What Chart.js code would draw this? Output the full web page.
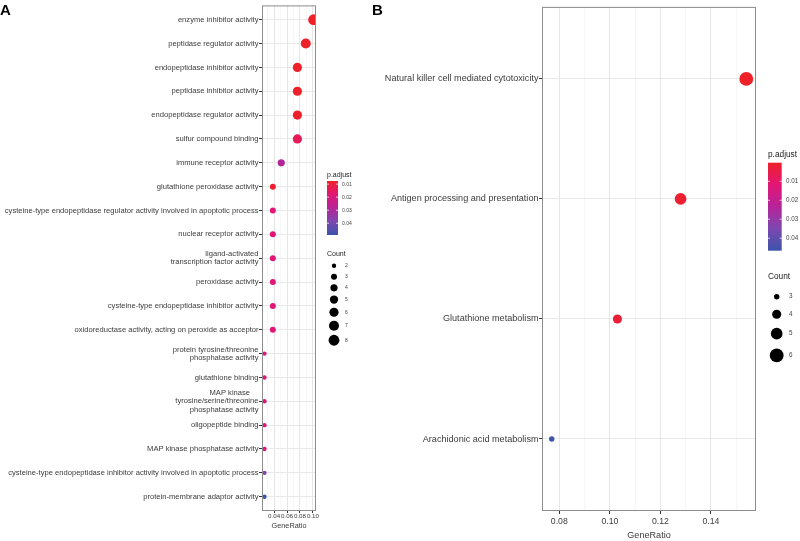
<!DOCTYPE html>
<html>
<head>
<meta charset="utf-8">
<script src="https://cdn.jsdelivr.net/npm/chart.js@4.4.0/dist/chart.umd.min.js"></script>
<style>
html, body { margin: 0; padding: 0; background: #fff; }
#wrap { position: relative; width: 800px; height: 541px; overflow: hidden; }
#chartA { position: absolute; left: 0; top: 0; }
#chartB { position: absolute; left: 365px; top: 0; }
</style>
</head>
<body>
<div id="wrap">
  <canvas id="chartA" width="365" height="541"></canvas>
  <canvas id="chartB" width="435" height="541"></canvas>
</div>
<script>
// ---- panel A data (GO terms) ----
const termsA = [
  "enzyme inhibitor activity",
  "peptidase regulator activity",
  "endopeptidase inhibitor activity",
  "peptidase inhibitor activity",
  "endopeptidase regulator activity",
  "sulfur compound binding",
  "immune receptor activity",
  "glutathione peroxidase activity",
  "cysteine-type endopeptidase regulator activity involved in apoptotic process",
  "nuclear receptor activity",
  "ligand-activated\ntranscription factor activity",
  "peroxidase activity",
  "cysteine-type endopeptidase inhibitor activity",
  "oxidoreductase activity, acting on peroxide as acceptor",
  "protein tyrosine/threonine\nphosphatase activity",
  "glutathione binding",
  "MAP kinase    \ntyrosine/serine/threonine\nphosphatase activity",
  "oligopeptide binding",
  "MAP kinase phosphatase activity",
  "cysteine-type endopeptidase inhibitor activity involved in apoptotic process",
  "protein-membrane adaptor activity"
];
const ratioA = [0.101, 0.089, 0.076, 0.076, 0.076, 0.076, 0.051, 0.038, 0.038, 0.038, 0.038,
                0.038, 0.038, 0.038, 0.025, 0.025, 0.025, 0.025, 0.025, 0.025, 0.025];
const countA = [8, 7, 6, 6, 6, 6, 4, 3, 3, 3, 3, 3, 3, 3, 2, 2, 2, 2, 2, 2, 2];
const padjA = [0.0076, 0.0077, 0.0078, 0.0078, 0.0078, 0.014, 0.029, 0.0085, 0.018, 0.018, 0.018,
               0.018, 0.018, 0.018, 0.019, 0.019, 0.019, 0.019, 0.019, 0.038, 0.049];
const majorTicksA = [0.04, 0.06, 0.08, 0.10];
const minorTicksA = [0.03, 0.05, 0.07, 0.09];
const colorTicksA = [0.01, 0.02, 0.03, 0.04];
const countBreaksA = [2, 3, 4, 5, 6, 7, 8];

// ---- panel B data (KEGG pathways) ----
const termsB = [
  "Natural killer cell mediated cytotoxicity",
  "Antigen processing and presentation",
  "Glutathione metabolism",
  "Arachidonic acid metabolism"
];
const ratioB = [0.154, 0.128, 0.103, 0.077];
const countB = [6, 5, 4, 3];
const padjB = [0.0002, 0.0015, 0.0025, 0.0466];
const majorTicksB = [0.08, 0.10, 0.12, 0.14];
const minorTicksB = [0.09, 0.11, 0.13, 0.15];
const colorTicksB = [0.01, 0.02, 0.03, 0.04];
const countBreaksB = [3, 4, 5, 6];

const SANS = '"Liberation Sans", Arial, sans-serif';
const TEXT = '#3b3b3b';

// red -> blue colour scale for p.adjust
const gradStops = [
  [0, [238, 32, 40]],
  [0.25, [226, 22, 118]],
  [0.5, [182, 36, 152]],
  [0.75, [124, 72, 176]],
  [1, [60, 84, 170]]
];
function gradColor(t) {
  t = Math.max(0, Math.min(1, t));
  for (let i = 1; i < gradStops.length; i++) {
    const [t1, c1] = gradStops[i];
    const [t0, c0] = gradStops[i - 1];
    if (t <= t1) {
      const f = (t - t0) / (t1 - t0);
      const c = c0.map((v, k) => Math.round(v + (c1[k] - v) * f));
      return `rgb(${c[0]},${c[1]},${c[2]})`;
    }
  }
  const c = gradStops[gradStops.length - 1][1];
  return `rgb(${c[0]},${c[1]},${c[2]})`;
}

// area-proportional size scale, like ggplot scale_size
function sizeScale(counts, rMin, rMax) {
  const lo = Math.min(...counts), hi = Math.max(...counts);
  return c => Math.sqrt(rMin * rMin + (rMax * rMax - rMin * rMin) * (c - lo) / (hi - lo));
}

function expand(values) {
  const lo = Math.min(...values), hi = Math.max(...values);
  const pad = (hi - lo) * 0.05;
  return [lo - pad, hi + pad];
}

const isIn = (list, v) => list.some(m => Math.abs(m - v) < 1e-9);

function drawLegend(chart, cfg) {
  const ctx = chart.ctx;
  ctx.save();
  ctx.textAlign = 'left';
  ctx.textBaseline = 'middle';
  ctx.fillStyle = '#222';
  ctx.font = cfg.titleFont;
  ctx.fillText('p.adjust', cfg.x, cfg.titleY);

  const g = ctx.createLinearGradient(0, cfg.barTop, 0, cfg.barBottom);
  gradStops.forEach(([t, c]) => g.addColorStop(t, `rgb(${c[0]},${c[1]},${c[2]})`));
  ctx.fillStyle = g;
  ctx.fillRect(cfg.x, cfg.barTop, cfg.barW, cfg.barBottom - cfg.barTop);

  ctx.font = cfg.labelFont;
  cfg.colorTicks.forEach(v => {
    const y = cfg.barTop + (v - cfg.pmin) / (cfg.pmax - cfg.pmin) * (cfg.barBottom - cfg.barTop);
    ctx.strokeStyle = 'rgba(255,255,255,0.9)';
    ctx.lineWidth = 0.8;
    ctx.beginPath();
    ctx.moveTo(cfg.x, y); ctx.lineTo(cfg.x + 2, y);
    ctx.moveTo(cfg.x + cfg.barW - 2, y); ctx.lineTo(cfg.x + cfg.barW, y);
    ctx.stroke();
    ctx.fillStyle = '#444';
    ctx.fillText(v.toFixed(2), cfg.tickX, y);
  });

  ctx.font = cfg.titleFont;
  ctx.fillStyle = '#222';
  ctx.fillText('Count', cfg.x, cfg.countY);

  ctx.font = cfg.labelFont;
  let y = cfg.keyStart;
  cfg.breaks.forEach(c => {
    const r = cfg.radius(c);
    const h = Math.max(cfg.keyMin, 2 * r + cfg.keyPad);
    const cy = y + h / 2;
    ctx.fillStyle = '#000';
    ctx.beginPath();
    ctx.arc(cfg.dotX, cy, r, 0, Math.PI * 2);
    ctx.fill();
    ctx.fillStyle = '#444';
    ctx.fillText(String(c), cfg.countX, cy);
    y += h;
  });
  ctx.restore();
}

function panelPlugin(letter, letterX, legendCfg) {
  return {
    id: 'panel' + letter,
    afterDatasetsDraw(chart) {
      const ctx = chart.ctx, a = chart.chartArea;
      ctx.save();
      ctx.strokeStyle = '#8c8c8c';
      ctx.lineWidth = 1;
      ctx.strokeRect(a.left + 0.5, a.top + 0.5, a.right - a.left - 1, a.bottom - a.top - 1);
      ctx.restore();
    },
    afterDraw(chart) {
      const ctx = chart.ctx;
      ctx.save();
      ctx.fillStyle = '#000';
      ctx.font = 'bold 15px ' + SANS;
      ctx.textBaseline = 'alphabetic';
      ctx.fillText(letter, letterX, 15);
      ctx.restore();
      drawLegend(chart, legendCfg);
    }
  };
}

function makeChart(canvasId, p) {
  const [xmin, xmax] = expand(p.ratio);
  const pmin = Math.min(...p.padj), pmax = Math.max(...p.padj);
  const allX = [...p.minor, ...p.major].sort((a, b) => a - b);
  const n = p.terms.length;

  return new Chart(document.getElementById(canvasId), {
    type: 'scatter',
    data: {
      datasets: [{
        data: p.ratio.map((x, i) => ({ x: x, y: i })),
        pointRadius: p.count.map(c => p.radius(c)),
        pointBackgroundColor: p.padj.map(v => gradColor((v - pmin) / (pmax - pmin))),
        pointBorderWidth: 0,
        pointBorderColor: 'rgba(0,0,0,0)',
        clip: 0
      }]
    },
    options: {
      responsive: false,
      animation: false,
      events: [],
      layout: { padding: p.padding },
      plugins: { legend: { display: false }, tooltip: { enabled: false } },
      scales: {
        x: {
          type: 'linear',
          min: xmin,
          max: xmax,
          bounds: 'data',
          afterBuildTicks: s => { s.ticks = allX.map(v => ({ value: v })); },
          afterFit: s => { s.height = 30; },
          border: { display: false },
          grid: {
            color: c => (c.tick && isIn(p.major, c.tick.value)) ? '#e6e6e6' : '#f1f1f1',
            lineWidth: c => (c.tick && isIn(p.major, c.tick.value)) ? 1 : 0.6,
            tickLength: p.xTickLen,
            tickColor: c => (c.tick && isIn(p.major, c.tick.value)) ? '#333' : 'rgba(0,0,0,0)'
          },
          ticks: {
            autoSkip: false,
            maxRotation: 0,
            padding: p.xTickPad,
            color: TEXT,
            font: { family: SANS, size: p.xTickSize },
            callback: v => isIn(p.major, v) ? v.toFixed(2) : ''
          },
          title: {
            display: true,
            text: 'GeneRatio',
            color: TEXT,
            font: { family: SANS, size: p.titleSize },
            padding: { top: 0, bottom: p.titlePad }
          }
        },
        y: {
          type: 'linear',
          reverse: true,
          min: -0.6,
          max: n - 1 + 0.6,
          bounds: 'data',
          afterBuildTicks: s => { s.ticks = p.terms.map((_, i) => ({ value: i })); },
          afterFit: s => { s.width = p.yWidth; },
          border: { display: false },
          grid: { color: '#e9e9e9', lineWidth: 1, tickLength: 3, tickColor: '#333' },
          ticks: {
            autoSkip: false,
            padding: 0.5,
            color: TEXT,
            font: { family: SANS, size: p.yTickSize, lineHeight: p.yLineHeight },
            callback: v => p.terms[Math.round(v)].split('\n')
          }
        }
      }
    },
    plugins: [panelPlugin(p.letter, p.letterX, Object.assign({ pmin, pmax }, p.legend))]
  });
}

const radiusA = sizeScale(countA, 2.2, 5.4);
const radiusB = sizeScale(countB, 2.7, 6.9);

makeChart('chartA', {
  terms: termsA, ratio: ratioA, count: countA, padj: padjA,
  major: majorTicksA, minor: minorTicksA, radius: radiusA,
  padding: { top: 5, right: 49, left: 0, bottom: 0 },
  yWidth: 262, yTickSize: 7.6, yLineHeight: 1.1,
  xTickLen: 2, xTickPad: -0.7, xTickSize: 6.2,
  titleSize: 7.3, titlePad: 10.6,
  letter: 'A', letterX: 0,
  legend: {
    x: 327, titleY: 175, titleFont: '7px ' + SANS, labelFont: '5px ' + SANS,
    barTop: 181, barBottom: 235, barW: 11, tickX: 342, colorTicks: colorTicksA,
    countY: 253.6, keyStart: 260.2, dotX: 334, countX: 345,
    keyMin: 11, keyPad: 4, breaks: countBreaksA, radius: radiusA
  }
});

makeChart('chartB', {
  terms: termsB, ratio: ratioB, count: countB, padj: padjB,
  major: majorTicksB, minor: minorTicksB, radius: radiusB,
  padding: { top: 1, right: 44, left: 0, bottom: 0 },
  yWidth: 177, yTickSize: 9.1, yLineHeight: 1.2,
  xTickLen: 3, xTickPad: 2.5, xTickSize: 8.7,
  titleSize: 9.1, titlePad: 0.5,
  letter: 'B', letterX: 7,
  legend: {
    x: 403, titleY: 155, titleFont: '8.3px ' + SANS, labelFont: '6.3px ' + SANS,
    barTop: 162.7, barBottom: 250.7, barW: 13.7, tickX: 421, colorTicks: colorTicksB,
    countY: 277, keyStart: 288.2, dotX: 411.7, countX: 424,
    keyMin: 17, keyPad: 9, breaks: countBreaksB, radius: radiusB
  }
});
</script>
</body>
</html>
